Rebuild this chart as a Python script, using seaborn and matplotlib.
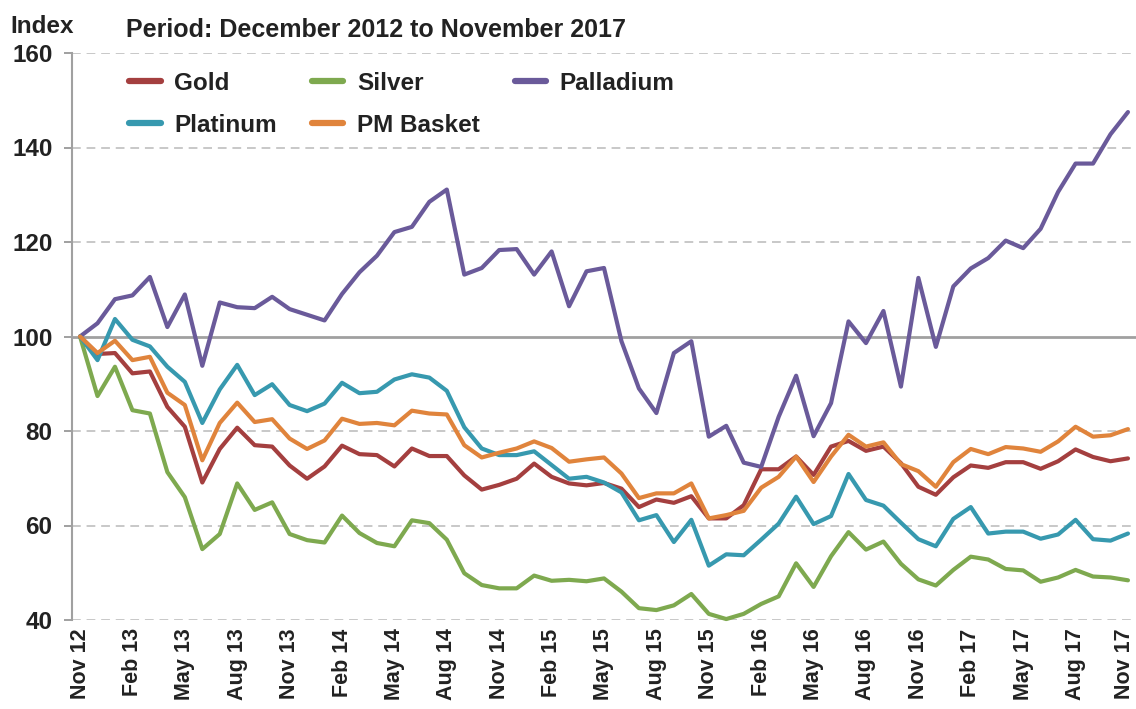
import numpy as np
import pandas as pd
import matplotlib
matplotlib.use("Agg")
import matplotlib.pyplot as plt
import matplotlib.transforms as mtransforms
import seaborn as sns

sns.set_theme(style="white")
plt.rcParams["font.family"] = ["Liberation Sans", "DejaVu Sans"]
plt.rcParams["font.weight"] = "bold"

# monthly index values, Nov 12 .. Nov 17 (Nov 12 = 100)
gold = [100, 96.3, 96.5, 92.2, 92.6, 85.1, 80.9, 69.1, 76.2, 80.7,
        77, 76.7, 72.7, 69.9, 72.5, 76.9, 75.1, 74.9, 72.5, 76.3,
        74.7, 74.7, 70.6, 67.6, 68.6, 69.9, 73.1, 70.3, 68.9, 68.5,
        69, 67.8, 63.9, 65.5, 64.8, 66.2, 61.5, 61.5, 64.3, 71.9,
        71.9, 74.6, 70.7, 76.7, 77.9, 75.8, 76.7, 73.2, 68.2, 66.5,
        70.2, 72.7, 72.2, 73.4, 73.4, 72, 73.6, 76.1, 74.5, 73.6,
        74.2]
silver = [100, 87.4, 93.6, 84.4, 83.7, 71.3, 66, 55, 58.2, 68.9,
          63.3, 64.9, 58.2, 56.9, 56.4, 62.1, 58.4, 56.3, 55.6, 61.1,
          60.5, 57, 49.9, 47.4, 46.7, 46.7, 49.4, 48.3, 48.5, 48.2,
          48.8, 46, 42.5, 42.1, 43.1, 45.5, 41.3, 40.2, 41.3, 43.4,
          45, 52, 47, 53.5, 58.6, 54.9, 56.6, 51.9, 48.6, 47.3,
          50.6, 53.4, 52.8, 50.8, 50.5, 48.1, 49, 50.6, 49.2, 49,
          48.4]
palladium = [100, 102.8, 107.9, 108.7, 112.6, 102, 108.9, 93.8, 107.2, 106.2,
             106, 108.4, 105.8, 104.6, 103.4, 109, 113.6, 117.1, 122.1, 123.2,
             128.5, 131.1, 113.1, 114.5, 118.3, 118.5, 113.1, 118, 106.4, 113.8,
             114.5, 99, 89, 83.8, 96.5, 99, 78.8, 81.1, 73.3, 72.4,
             83, 91.7, 78.9, 85.9, 103.2, 98.6, 105.4, 89.4, 112.4, 97.8,
             110.6, 114.4, 116.6, 120.3, 118.7, 122.8, 130.6, 136.6, 136.6, 142.8,
             147.5]
platinum = [100, 95, 103.7, 99.3, 97.9, 93.6, 90.4, 81.7, 88.8, 94,
            87.6, 89.9, 85.5, 84.2, 85.8, 90.2, 88, 88.3, 90.9, 92,
            91.3, 88.5, 80.8, 76.3, 74.9, 74.9, 75.7, 72.8, 69.9, 70.3,
            69.1, 67, 61.1, 62.2, 56.5, 61.2, 51.5, 53.9, 53.7, 57,
            60.4, 66.1, 60.3, 62, 70.9, 65.4, 64.2, 60.6, 57.1, 55.6,
            61.4, 63.9, 58.3, 58.7, 58.7, 57.2, 58.1, 61.2, 57.1, 56.8,
            58.3]
pm_basket = [100, 96.5, 99.1, 95, 95.7, 88.1, 85.5, 73.8, 81.7, 86,
             81.9, 82.5, 78.4, 76.2, 78, 82.6, 81.5, 81.7, 81.2, 84.3,
             83.7, 83.5, 77, 74.4, 75.4, 76.3, 77.8, 76.4, 73.5, 74,
             74.4, 71, 65.8, 66.8, 66.8, 68.9, 61.5, 62.2, 63.1, 68,
             70.3, 74.6, 69.2, 74.6, 79.2, 76.7, 77.6, 73, 71.5, 68.2,
             73.4, 76.2, 75.1, 76.6, 76.3, 75.6, 77.8, 80.9, 78.8, 79.1,
             80.4]

series_names = ["Gold", "Silver", "Palladium", "Platinum", "PM Basket"]
colors = ["#A43F3F", "#7EA94F", "#6A5A9A", "#3799AF", "#E0843C"]

tick_labels = ["Nov 12", "Feb 13", "May 13", "Aug 13", "Nov 13", "Feb 14", "May 14",
               "Aug 14", "Nov 14", "Feb 15", "May 15", "Aug 15", "Nov 15", "Feb 16",
               "May 16", "Aug 16", "Nov 16", "Feb 17", "May 17", "Aug 17", "Nov 17"]

months = np.arange(len(gold))
df = pd.DataFrame({"month": np.tile(months, 5),
                   "value": gold + silver + palladium + platinum + pm_basket,
                   "metal": np.repeat(series_names, len(months))})

FS = 17.5
TXT = "#222222"

fig = plt.figure(figsize=(11.36, 7.09), dpi=100)
ax = fig.add_axes([72 / 1136, 1 - 620 / 709, 1064 / 1136, 567 / 709])

# grid
for y in [40, 60, 80, 120, 140, 160]:
    ax.axhline(y, color="#C8C8C8", lw=1.4, ls=(0, (4.5, 3)), zorder=0)
ax.axhline(100, color="#A0A0A0", lw=2, zorder=0)

sns.lineplot(data=df, x="month", y="value", hue="metal", hue_order=series_names,
             palette=colors, lw=3, ax=ax, legend=False, clip_on=False)

ax.set_xlim(-0.46, 60.46)
ax.set_ylim(40, 160)
ax.set_yticks([40, 60, 80, 100, 120, 140, 160])
ax.set_xticks(np.arange(0, 61, 3))
ax.set_xticklabels(tick_labels, rotation=90, fontsize=15.5, fontweight="bold", va="top", color=TXT)
ax.tick_params(axis="x", length=0, pad=6)
ax.tick_params(axis="y", length=6, width=1.4, color="#A0A0A0", labelsize=FS,
               labelcolor=TXT, pad=8, left=True)
for lbl in ax.get_yticklabels():
    lbl.set_fontweight("bold")
# last label sits at the right edge: nudge it inside the figure
last = ax.get_xticklabels()[-1]
last.set_transform(last.get_transform() + mtransforms.ScaledTranslation(-3 / 100, 0, fig.dpi_scale_trans))
ax.set_xlabel("")
ax.set_ylabel("")
for s in ["top", "right", "bottom"]:
    ax.spines[s].set_visible(False)
ax.spines["left"].set_color("#A0A0A0")
ax.spines["left"].set_linewidth(1.5)

fig.text(10 / 1136, 1 - 33 / 709, "Index", fontsize=FS, fontweight="bold", color=TXT)
fig.text(126 / 1136, 1 - 37 / 709, "Period: December 2012 to November 2017",
         fontsize=18, fontweight="bold", color=TXT)

handles = [plt.Line2D([], [], color=c, lw=4.5) for c in colors]
order = [0, 3, 1, 4, 2]
leg = fig.legend([handles[i] for i in order], [series_names[i] for i in order],
                 ncol=3, frameon=False, loc="upper left",
                 bbox_to_anchor=(129 / 1136, 1 - 72 / 709), prop={"size": FS, "weight": "bold"},
                 handlelength=1.3, handletextpad=0.55, columnspacing=1.45,
                 labelspacing=0.78, borderpad=0, borderaxespad=0)
for t in leg.get_texts():
    t.set_color(TXT)

fig.savefig("out.png", dpi=100)
